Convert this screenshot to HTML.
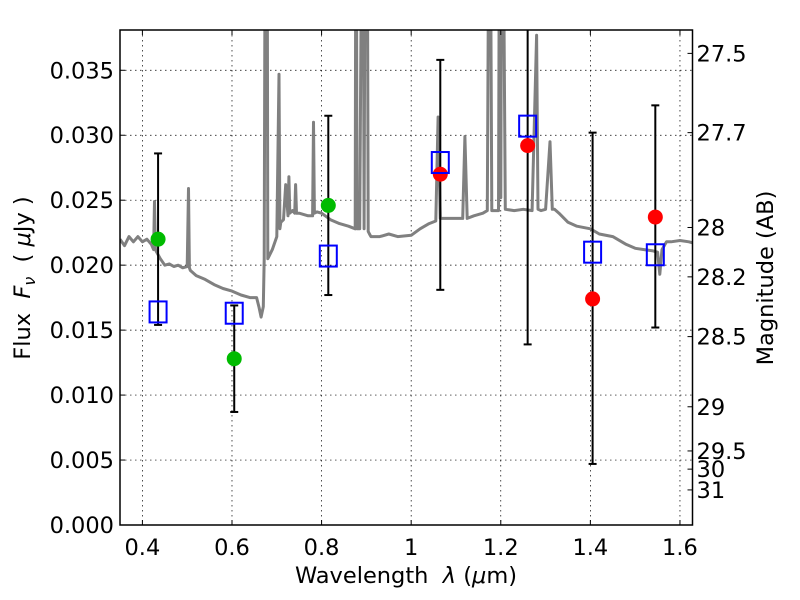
<!DOCTYPE html>
<html><head><meta charset="utf-8"><style>
html,body{margin:0;padding:0;background:#fff;}
svg{display:block;font-family:"DejaVu Sans","Liberation Sans",sans-serif;}
</style></head><body>
<svg id="chart" width="800" height="600" xmlns="http://www.w3.org/2000/svg">
<defs><clipPath id="clip"><rect x="120" y="30" width="572.5" height="495"/></clipPath></defs>
<rect x="0" y="0" width="800" height="600" fill="#fff"/>
<g id="grid"></g>
<g id="spec" clip-path="url(#clip)"></g>
<g id="marks"></g>
<g id="axes"></g>
<text x="406" y="583" text-anchor="middle" font-size="22.5">Wavelength&#160;&#160;<tspan font-style="italic">λ</tspan> (<tspan font-style="italic">μ</tspan>m)</text>
<text transform="translate(30,278) rotate(-90)" text-anchor="middle" font-size="22.5">Flux&#160;&#160;<tspan font-style="italic">F</tspan><tspan font-style="italic" font-size="16" dy="5">ν</tspan><tspan dy="-5">&#160;&#160;(&#160;</tspan><tspan font-style="italic">μ</tspan>Jy )</text>
<text transform="translate(773,278) rotate(-90)" text-anchor="middle" font-size="22.5">Magnitude (AB)</text>
</svg>
<script>
const xTicks=[0.4,0.6,0.8,1.0,1.2,1.4,1.6];
const xTickLabels=["0.4","0.6","0.8","1","1.2","1.4","1.6"];
const yTicks=[0,0.005,0.010,0.015,0.020,0.025,0.030,0.035];
const yTickLabels=["0.000","0.005","0.010","0.015","0.020","0.025","0.030","0.035"];
const magTickLabels=["27.5","27.7","28","28.2","28.5","29","29.5","30","31"];
const magTickFlux=[0.0363,0.0302,0.0229,0.0191,0.0145,0.0091,0.0057,0.0043,0.0027];
const bandWl=[0.435,0.605,0.815,1.065,1.26,1.405,1.545];
const greenWl=[0.435,0.605,0.815];
const greenFlux=[0.0220,0.0128,0.0246];
const redWl=[1.065,1.26,1.405,1.545];
const redFlux=[0.0270,0.0292,0.0174,0.0237];
const modelFlux=[0.0164,0.0163,0.0207,0.0279,0.0307,0.0210,0.0208];
const errLow=[0.0154,0.0087,0.0177,0.0181,0.0139,0.0047,0.0152];
const errHigh=[0.0286,0.0169,0.0315,0.0358,0.0450,0.0302,0.0323];
const specWl=[0.35,0.36,0.37,0.38,0.39,0.40,0.41,0.42,0.425,0.427,0.429,0.432,0.44,0.45,0.46,0.47,0.48,0.49,0.50,0.503,0.505,0.507,0.52,0.54,0.56,0.58,0.60,0.62,0.64,0.655,0.66,0.665,0.67,0.672,0.675,0.678,0.68,0.69,0.70,0.705,0.707,0.709,0.715,0.72,0.725,0.727,0.729,0.735,0.74,0.742,0.744,0.75,0.77,0.78,0.782,0.784,0.79,0.80,0.82,0.84,0.86,0.875,0.877,0.879,0.885,0.892,0.895,0.898,0.901,0.904,0.907,0.91,0.93,0.95,0.97,1.0,1.02,1.04,1.055,1.06,1.065,1.08,1.1,1.115,1.12,1.125,1.14,1.16,1.17,1.175,1.18,1.195,1.198,1.2,1.203,1.21,1.23,1.25,1.27,1.28,1.283,1.29,1.3,1.31,1.315,1.32,1.33,1.35,1.37,1.4,1.42,1.45,1.48,1.5,1.52,1.54,1.55,1.555,1.56,1.57,1.58,1.6,1.62,1.63];
const specFlux=[0.0220,0.0215,0.0222,0.0218,0.0222,0.0218,0.0220,0.0216,0.0212,0.0249,0.0212,0.0210,0.0205,0.0200,0.0201,0.0199,0.0200,0.0198,0.0199,0.0259,0.0198,0.0196,0.0192,0.0189,0.0185,0.0182,0.0180,0.0177,0.0175,0.0175,0.0168,0.0160,0.0168,0.0205,0.0600,0.0600,0.0205,0.0212,0.0222,0.0347,0.0228,0.0233,0.0235,0.0262,0.0238,0.0268,0.0240,0.0242,0.0240,0.0262,0.0240,0.0240,0.0238,0.0238,0.0310,0.0240,0.0241,0.0240,0.0235,0.0232,0.0230,0.0228,0.0600,0.0228,0.0228,0.0600,0.0228,0.0600,0.0600,0.0226,0.0224,0.0222,0.0222,0.0224,0.0222,0.0223,0.0228,0.0232,0.0234,0.0314,0.0236,0.0236,0.0236,0.0236,0.0299,0.0236,0.0238,0.0240,0.0242,0.0600,0.0242,0.0242,0.0600,0.0252,0.0600,0.0243,0.0242,0.0243,0.0242,0.0377,0.0243,0.0242,0.0243,0.0295,0.0243,0.0243,0.0240,0.0233,0.0230,0.0228,0.0224,0.0222,0.0216,0.0213,0.0212,0.0211,0.0210,0.0193,0.0212,0.0218,0.0218,0.0219,0.0218,0.0217];

const NS="http://www.w3.org/2000/svg";
const L=120,R=692.5,T=30,B=525,X0=0.35,X1=1.628,Y0=0,Y1=0.0381;
const sx=v=>L+(v-X0)/(X1-X0)*(R-L);
const sy=v=>B-(v-Y0)/(Y1-Y0)*(B-T);
function mk(tag,attrs,parent,text){const e=document.createElementNS(NS,tag);for(const k in attrs)e.setAttribute(k,attrs[k]);if(text!==undefined)e.textContent=text;parent.appendChild(e);return e;}
const grid=document.getElementById('grid'),spec=document.getElementById('spec'),marks=document.getElementById('marks'),axes=document.getElementById('axes');
xTicks.forEach(v=>{const g=mk('line',{x1:sx(v),x2:sx(v),y1:T,y2:B,stroke:'#000','stroke-width':0.7,'stroke-dasharray':'1.5,3.5'},grid);});
yTicks.forEach(v=>{const g=mk('line',{x1:L,x2:R,y1:sy(v),y2:sy(v),stroke:'#000','stroke-width':0.7,'stroke-dasharray':'1.5,3.5'},grid);});
const pts=specWl.map((w,i)=>sx(w).toFixed(1)+','+sy(specFlux[i]).toFixed(1)).join(' ');
const sl=mk('polyline',{points:pts,fill:'none',stroke:'#808080','stroke-width':3,'stroke-linejoin':'round'},spec);

bandWl.forEach((w,i)=>{const x=sx(w),y1=sy(errLow[i]),y2=Math.max(sy(errHigh[i]),T);
 const e=mk('g',{},marks);
 mk('line',{x1:x,x2:x,y1:y1,y2:y2,stroke:'#000','stroke-width':2},e);
 mk('line',{x1:x-4,x2:x+4,y1:y1,y2:y1,stroke:'#000','stroke-width':2},e);
 if(sy(errHigh[i])>T)mk('line',{x1:x-4,x2:x+4,y1:y2,y2:y2,stroke:'#000','stroke-width':2},e);});
greenWl.forEach((w,i)=>{const c=mk('circle',{cx:sx(w),cy:sy(greenFlux[i]),r:7.5,fill:'#00bb00'},marks);});
redWl.forEach((w,i)=>{const c=mk('circle',{cx:sx(w),cy:sy(redFlux[i]),r:7.5,fill:'#ff0000'},marks);});
bandWl.forEach((w,i)=>{const s=mk('rect',{x:sx(w)-8.5,y:sy(modelFlux[i])-10.5,width:17,height:21,fill:'none',stroke:'#0000ff','stroke-width':2},marks);});
const fr=mk('rect',{x:L,y:T,width:R-L,height:B-T,fill:'none',stroke:'#000','stroke-width':1.5},axes);
xTicks.forEach((v,i)=>{mk('line',{x1:sx(v),x2:sx(v),y1:B,y2:B-5,stroke:'#000'},axes);mk('line',{x1:sx(v),x2:sx(v),y1:T,y2:T+5,stroke:'#000'},axes);
 const t=mk('text',{x:sx(v),y:B+30,'text-anchor':'middle','font-size':22.5},axes,xTickLabels[i]);});
yTicks.forEach((v,i)=>{mk('line',{x1:L,x2:L+5,y1:sy(v),y2:sy(v),stroke:'#000'},axes);
 const t=mk('text',{x:L-6,y:sy(v)+8,'text-anchor':'end','font-size':22.5},axes,yTickLabels[i]);});
magTickFlux.forEach((f,i)=>{mk('line',{x1:R,x2:R-5,y1:sy(f),y2:sy(f),stroke:'#000'},axes);
 const t=mk('text',{x:R+4,y:sy(f)+8,'font-size':22.5},axes,magTickLabels[i]);});
</script>
</body></html>
